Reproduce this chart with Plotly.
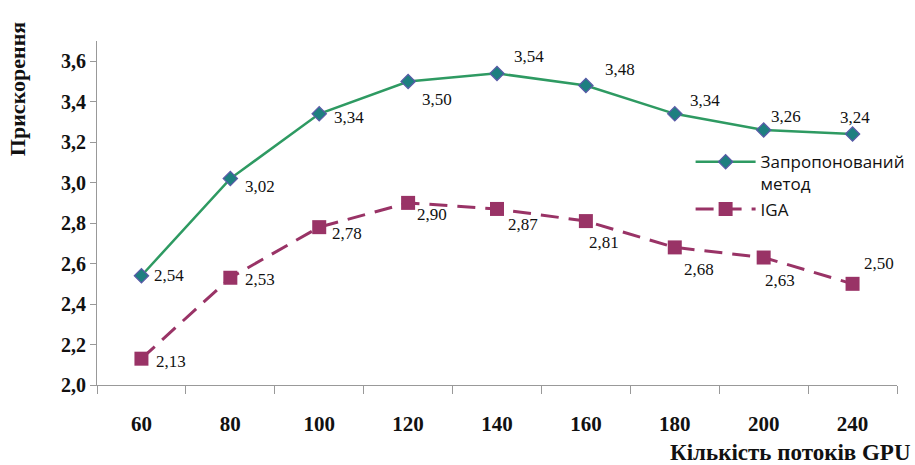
import plotly.graph_objects as go

threads = ["60", "80", "100", "120", "140", "160", "180", "200", "240"]
proposed = [2.54, 3.02, 3.34, 3.50, 3.54, 3.48, 3.34, 3.26, 3.24]
iga = [2.13, 2.53, 2.78, 2.90, 2.87, 2.81, 2.68, 2.63, 2.50]
y_ticks = [2.0, 2.2, 2.4, 2.6, 2.8, 3.0, 3.2, 3.4, 3.6]

# label offsets (pixels) for each value label
prop_shift = [(28, 0), (30, -8), (30, -4), (29, -18), (32, 17), (34, 16), (30, 13), (22, 14), (2, 17)]
iga_shift = [(30, -3), (30, -2), (28, -6), (24, -12), (26, -16), (18, -21), (24, -22), (16, -23), (26, 20)]

fig = go.Figure()
fig.add_trace(go.Scatter(
    x=threads, y=proposed, mode="lines+markers", name="Запропонований<br>метод",
    line=dict(color="#2E9A62", width=2.5),
    marker=dict(symbol="diamond", size=11, color="#1E7F80",
                line=dict(color="#5A5AA8", width=1.2)),
))
fig.add_trace(go.Scatter(
    x=threads, y=iga, mode="lines+markers", name="IGA",
    line=dict(color="#993366", width=3, dash="18px,10px"),
    marker=dict(symbol="square", size=14, color="#993366"),
))

label_font = dict(family="Liberation Serif", size=17, color="#111111")
for ys, shifts in ((proposed, prop_shift), (iga, iga_shift)):
    for i, (yv, (dx, dy)) in enumerate(zip(ys, shifts)):
        fig.add_annotation(x=i, y=yv, text=f"{yv:.2f}".replace(".", ","),
                           showarrow=False, xshift=dx, yshift=dy, font=label_font)

fig.add_annotation(xref="paper", yref="paper", x=-0.1, y=0.86, xanchor="center",
                   yanchor="middle", text="<b>Прискорення</b>", textangle=-90,
                   showarrow=False,
                   font=dict(family="Liberation Serif", size=22, color="#111111"))
fig.add_annotation(xref="paper", yref="paper", x=1.02, y=-0.195, xanchor="right",
                   yanchor="middle", text="<b>Кількість потоків GPU</b>", showarrow=False,
                   font=dict(family="Liberation Serif", size=23, color="#111111"))

fig.update_xaxes(
    type="category", range=[-0.5, 8.5], tickson="boundaries", ticks="outside", ticklen=8,
    tickcolor="#999999", showline=True, linecolor="#999999", linewidth=1,
    showgrid=False, zeroline=False, tickangle=0,
    tickfont=dict(family="Liberation Serif", size=21, color="#111111"),
    tickvals=threads, ticktext=[f"<b>{t}</b>" for t in threads],
    ticklabelstandoff=20,
)
fig.update_yaxes(
    range=[2.0, 3.7], tickvals=y_ticks,
    ticktext=[f"<b>{v:.1f}</b>".replace(".", ",") for v in y_ticks],
    ticks="outside", ticklen=6, tickcolor="#999999", showline=True,
    linecolor="#999999", linewidth=1, showgrid=False, zeroline=False,
    tickfont=dict(family="Liberation Serif", size=20, color="#111111"),
)
fig.update_layout(
    width=915, height=465,
    margin=dict(l=97, r=18, t=41, b=80, autoexpand=False),
    plot_bgcolor="white", paper_bgcolor="white",
    legend=dict(x=0.742, y=0.70, xanchor="left", yanchor="top",
                font=dict(family="Open Sans", size=17, color="#111111"),
                itemwidth=60, valign="top", tracegroupgap=0,
                bgcolor="rgba(0,0,0,0)"),
)
fig.write_html("out.html")
